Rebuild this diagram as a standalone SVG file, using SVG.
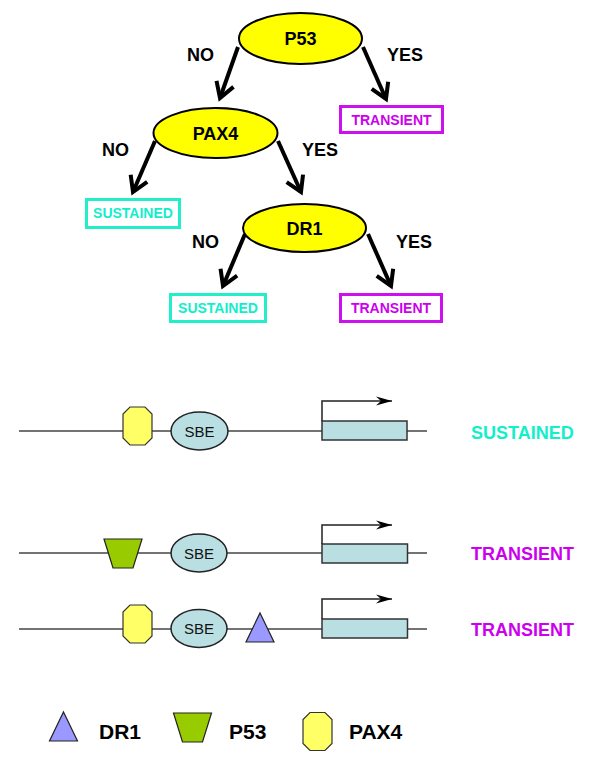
<svg xmlns="http://www.w3.org/2000/svg" width="600" height="767" viewBox="0 0 600 767">
<style>
text{font-family:"Liberation Sans",Arial,sans-serif;font-weight:bold;}
.dec{fill:#ffff00;stroke:#000;stroke-width:2;}
.dt{font-size:18px;fill:#000;text-anchor:middle;}
.lab{font-size:18px;fill:#000;}
.edge{stroke:#000;stroke-width:4;fill:none;}
.sus{fill:none;stroke:#22eecc;stroke-width:3;}
.tra{fill:none;stroke:#cc11ee;stroke-width:3;}
.st{font-size:14px;fill:#11eecc;text-anchor:middle;}
.tt{font-size:14px;fill:#cc00ee;text-anchor:middle;}
.dna{stroke:#444;stroke-width:1.5;}
.gene{fill:#b9dfe2;stroke:#333;stroke-width:1.5;}
.sbe{fill:#b9dfe2;stroke:#222;stroke-width:1.5;}
.sbet{font-family:"Liberation Sans",Arial,sans-serif;font-weight:normal;font-size:15px;fill:#111;text-anchor:middle;}
.prom{stroke:#222;stroke-width:1.5;fill:none;}
.oct{fill:#ffff66;stroke:#333;stroke-width:1.2;}
.trap{fill:#99cc00;stroke:#222;stroke-width:1.2;}
.tri{fill:#9999ff;stroke:#222;stroke-width:1.2;}
.rl{font-size:18px;}
.leg{font-size:21px;fill:#000;}
</style>
<defs>
<marker id="chev" markerUnits="userSpaceOnUse" markerWidth="30" markerHeight="30" refX="0" refY="0" viewBox="-20 -15 30 30" orient="auto" overflow="visible">
<path d="M-15,-9 L0,0 L-15,9" fill="none" stroke="#000" stroke-width="4" stroke-linejoin="miter"/>
</marker>
<marker id="pa" markerUnits="userSpaceOnUse" markerWidth="20" markerHeight="12" refX="0" refY="0" viewBox="-18 -6 20 12" orient="auto" overflow="visible">
<path d="M-16,-4.5 L0,0 L-16,4.5 L-11,0 Z" fill="#000"/>
</marker>
<polygon id="octa" points="-7.5,-19 7.5,-19 14.5,-12 14.5,12 7.5,19 -7.5,19 -14.5,12 -14.5,-12"/>
<polygon id="trapz" points="-19,-14.5 19,-14.5 10,14.5 -10,14.5"/>
<polygon id="trian" points="0,-14.5 14,14.5 -14,14.5"/>
</defs>

<g id="connectors">
<line class="edge" x1="238" y1="47" x2="220" y2="98" marker-end="url(#chev)"/>
<line class="edge" x1="363" y1="47" x2="386" y2="99" marker-end="url(#chev)"/>
<line class="edge" x1="155" y1="141" x2="133" y2="192" marker-end="url(#chev)"/>
<line class="edge" x1="278" y1="141" x2="301" y2="192" marker-end="url(#chev)"/>
<line class="edge" x1="245" y1="234" x2="223" y2="286" marker-end="url(#chev)"/>
<line class="edge" x1="368" y1="234" x2="391" y2="286" marker-end="url(#chev)"/>
</g>

<g id="labels">
<text class="lab" x="187" y="61">NO</text>
<text class="lab" x="387" y="61">YES</text>
<text class="lab" x="102" y="156">NO</text>
<text class="lab" x="302" y="156">YES</text>
<text class="lab" x="192" y="248">NO</text>
<text class="lab" x="396" y="248">YES</text>
</g>

<g id="p53">
<ellipse class="dec" cx="300.5" cy="38.5" rx="61.5" ry="25.5"/>
<text class="dt" x="300.5" y="45">P53</text>
</g>
<g id="pax4">
<ellipse class="dec" cx="215.5" cy="133" rx="62" ry="25"/>
<text class="dt" x="215.5" y="140">PAX4</text>
</g>
<g id="dr1">
<ellipse class="dec" cx="304.5" cy="228" rx="61.5" ry="24"/>
<text class="dt" x="304.5" y="234.5">DR1</text>
</g>
<g id="transient1">
<rect class="tra" x="340.5" y="106.5" width="102" height="26"/>
<text class="tt" x="391.5" y="124.5">TRANSIENT</text>
</g>
<g id="sustained1">
<rect class="sus" x="86.5" y="199.5" width="93" height="28"/>
<text class="st" x="133" y="218">SUSTAINED</text>
</g>
<g id="sustained2">
<rect class="sus" x="170.5" y="294.5" width="95" height="27"/>
<text class="st" x="218" y="313">SUSTAINED</text>
</g>
<g id="transient2">
<rect class="tra" x="340.5" y="294.5" width="101" height="27"/>
<text class="tt" x="391" y="313">TRANSIENT</text>
</g>

<g id="row1">
<line class="dna" x1="19" y1="431" x2="427" y2="431"/>
<use href="#octa" class="oct" x="137.5" y="426"/>
<ellipse class="sbe" cx="199.5" cy="431" rx="28.5" ry="19"/>
<text class="sbet" x="199.5" y="436.5">SBE</text>
<rect class="gene" x="322" y="421" width="85" height="19"/>
<polyline class="prom" points="322,421 322,401 392,401" marker-end="url(#pa)"/>
<text class="rl" x="471" y="438.5" fill="#11f0c8">SUSTAINED</text>
</g>

<g id="row2">
<line class="dna" x1="19" y1="553" x2="427" y2="553"/>
<use href="#trapz" class="trap" x="123" y="553.5"/>
<ellipse class="sbe" cx="199" cy="553" rx="28" ry="19"/>
<text class="sbet" x="199" y="558.5">SBE</text>
<rect class="gene" x="322" y="544" width="85.5" height="19"/>
<polyline class="prom" points="322,544 322,525 392,525" marker-end="url(#pa)"/>
<text class="rl" x="471" y="559.5" fill="#cc00ee">TRANSIENT</text>
</g>

<g id="row3">
<line class="dna" x1="19" y1="629" x2="427" y2="629"/>
<use href="#octa" class="oct" x="137.5" y="624"/>
<ellipse class="sbe" cx="199" cy="628.5" rx="28" ry="19"/>
<text class="sbet" x="199" y="634">SBE</text>
<use href="#trian" class="tri" x="260" y="627.5"/>
<rect class="gene" x="322" y="619" width="85.5" height="19"/>
<polyline class="prom" points="322,619 322,599 392,599" marker-end="url(#pa)"/>
<text class="rl" x="471" y="635.5" fill="#cc00ee">TRANSIENT</text>
</g>

<g id="legend">
<use href="#trian" class="tri" x="63.5" y="726.5"/>
<text class="leg" x="99" y="739">DR1</text>
<use href="#trapz" class="trap" x="192.5" y="727.5"/>
<text class="leg" x="229" y="739">P53</text>
<use href="#octa" class="oct" x="317.5" y="731.5"/>
<text class="leg" x="349" y="739">PAX4</text>
</g>
</svg>
